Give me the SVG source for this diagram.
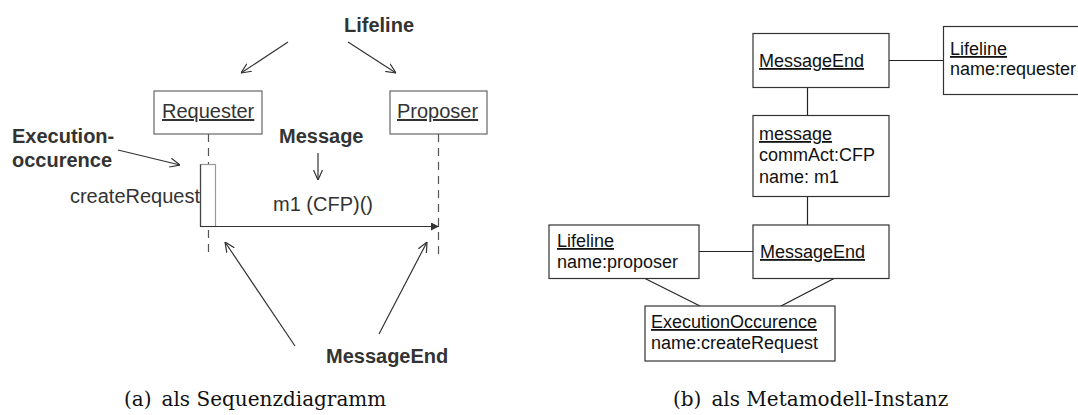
<svg xmlns="http://www.w3.org/2000/svg" width="1078" height="415" viewBox="0 0 1078 415">
  <style>
    .lbl { font-family: "Liberation Sans", Arial, sans-serif; font-size: 20px; font-weight: bold; fill: #333; }
    .seq { font-family: "Liberation Sans", Arial, sans-serif; font-size: 20px; fill: #333; }
    .obj { font-family: "Liberation Sans", Arial, sans-serif; font-size: 18px; fill: #111; }
    .u { text-decoration: underline; }
    .cap { font-family: "DejaVu Serif", "Liberation Serif", serif; font-size: 20px; fill: #111; }
    .seqbox { fill: #fff; stroke: #666; stroke-width: 1.2; }
    .objbox { fill: #fff; stroke: #333; stroke-width: 1.2; }
    .life { fill: none; stroke: #555; stroke-width: 1.2; stroke-dasharray: 8 6; }
    .ptr { fill: none; stroke: #333; stroke-width: 1.2; marker-end: url(#open); }
    .link { fill: none; stroke: #222; stroke-width: 1.2; }
  </style>
  <defs>
    <marker id="open" viewBox="0 0 10 10" refX="10" refY="5" markerWidth="10" markerHeight="10" markerUnits="userSpaceOnUse" orient="auto">
      <path d="M0,0.5 L10,5 L0,9.5" fill="none" stroke="#333" stroke-width="1.2"/>
    </marker>
    <marker id="filled" viewBox="0 0 8 8" refX="8" refY="4" markerWidth="8" markerHeight="8" markerUnits="userSpaceOnUse" orient="auto">
      <path d="M0,0 L8,4 L0,8 Z" fill="#333"/>
    </marker>
  </defs>

  <!-- (a) sequence diagram -->
  <g id="requester">
    <rect class="seqbox" x="154" y="91" width="108" height="43"/>
    <text class="seq u" x="162" y="118">Requester</text>
  </g>
  <g id="proposer">
    <rect class="seqbox" x="390" y="91" width="97" height="43"/>
    <text class="seq u" x="397" y="118">Proposer</text>
  </g>
  <g id="lifelines">
    <line class="life" x1="208.5" y1="134" x2="208.5" y2="164"/>
    <line class="life" x1="208.5" y1="230" x2="208.5" y2="258"/>
    <line class="life" x1="438.5" y1="134" x2="438.5" y2="258"/>
  </g>
  <g id="execution">
    <rect x="200.5" y="164.5" width="15" height="62" fill="#fff" stroke="#999" stroke-width="1.2"/>
    <line x1="200.5" y1="164.5" x2="200.5" y2="226.5" stroke="#444" stroke-width="1.2"/>
    <text class="seq" x="200" y="203" text-anchor="end">createRequest</text>
  </g>
  <g id="message">
    <line x1="200" y1="226.5" x2="439" y2="226.5" stroke="#333" stroke-width="1.2" marker-end="url(#filled)"/>
    <text class="seq" x="273" y="211">m1 (CFP)()</text>
  </g>

  <g id="annotations">
    <text class="lbl" x="344" y="32">Lifeline</text>
    <text class="lbl" x="12" y="143">Execution-</text>
    <text class="lbl" x="12" y="167">occurence</text>
    <text class="lbl" x="279" y="143">Message</text>
    <text class="lbl" x="326" y="363">MessageEnd</text>
  </g>
  <g id="pointers">
    <line class="ptr" x1="288" y1="42" x2="241" y2="73"/>
    <line class="ptr" x1="348" y1="42" x2="396" y2="73"/>
    <line class="ptr" x1="118" y1="150" x2="180" y2="165"/>
    <line class="ptr" x1="318" y1="153" x2="318" y2="180"/>
    <line class="ptr" x1="295" y1="346" x2="225" y2="242"/>
    <line class="ptr" x1="379" y1="334" x2="427" y2="242"/>
  </g>

  <!-- (b) metamodel instance -->
  <g id="links">
    <line class="link" x1="889" y1="60.5" x2="943" y2="60.5"/>
    <line class="link" x1="807.5" y1="88" x2="807.5" y2="115"/>
    <line class="link" x1="807.5" y1="196" x2="807.5" y2="225"/>
    <line class="link" x1="699" y1="251.5" x2="753" y2="251.5"/>
    <line class="link" x1="644" y1="278" x2="700" y2="306"/>
    <line class="link" x1="835" y1="278" x2="781" y2="306"/>
  </g>
  <g id="messageEndTop">
    <rect class="objbox" x="753" y="33.5" width="136" height="54"/>
    <text class="obj u" x="759" y="67">MessageEnd</text>
  </g>
  <g id="lifelineRequester">
    <rect class="objbox" x="943.5" y="26.5" width="150" height="68"/>
    <text class="obj u" x="950" y="55">Lifeline</text>
    <text class="obj" x="950" y="75">name:requester</text>
  </g>
  <g id="messageObj">
    <rect class="objbox" x="753" y="115.5" width="136" height="81"/>
    <text class="obj u" x="759" y="140">message</text>
    <text class="obj" x="759" y="161">commAct:CFP</text>
    <text class="obj" x="759" y="183">name: m1</text>
  </g>
  <g id="messageEndBottom">
    <rect class="objbox" x="753" y="225" width="136" height="53.5"/>
    <text class="obj u" x="760" y="258">MessageEnd</text>
  </g>
  <g id="lifelineProposer">
    <rect class="objbox" x="549" y="225" width="150" height="53.5"/>
    <text class="obj u" x="557" y="247">Lifeline</text>
    <text class="obj" x="557" y="268">name:proposer</text>
  </g>
  <g id="executionOccurence">
    <rect class="objbox" x="645" y="306" width="190" height="55"/>
    <text class="obj u" x="651" y="328">ExecutionOccurence</text>
    <text class="obj" x="651" y="349">name:createRequest</text>
  </g>

  <g id="captions">
    <text class="cap" x="124" y="406">(a)<tspan dx="10">als Sequenzdiagramm</tspan></text>
    <text class="cap" x="673" y="406">(b)<tspan dx="10">als Metamodell-Instanz</tspan></text>
  </g>
</svg>
